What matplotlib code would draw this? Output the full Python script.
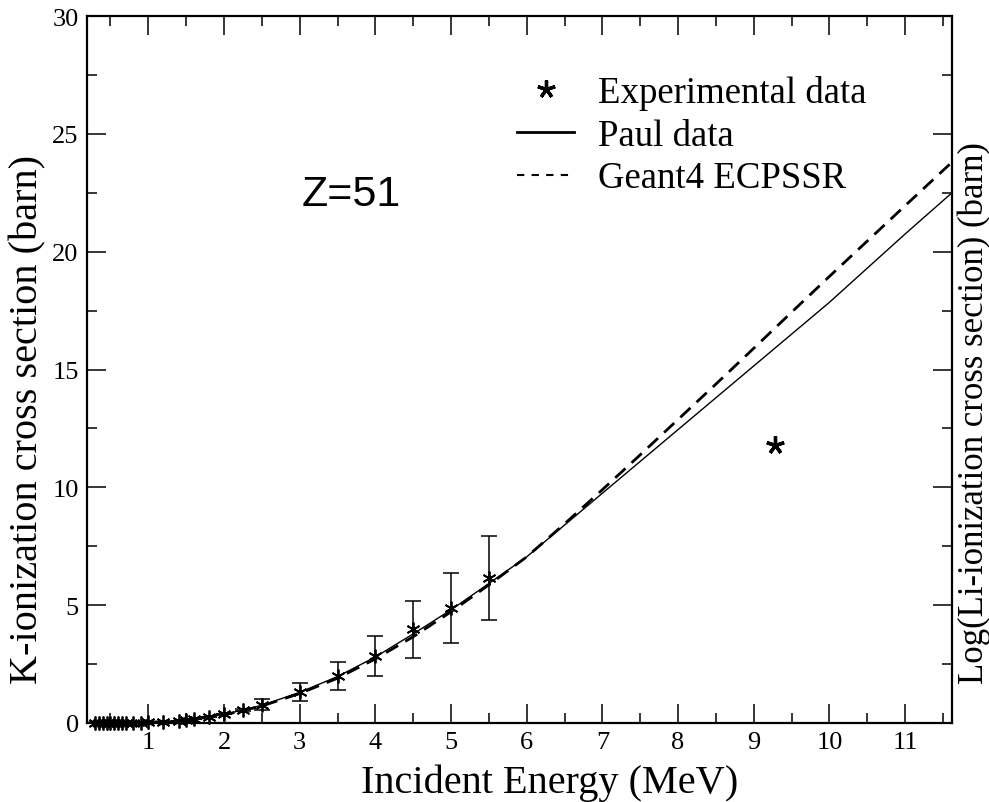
import matplotlib
matplotlib.use("Agg")
import matplotlib.pyplot as plt
from matplotlib.lines import Line2D
from matplotlib.ticker import MultipleLocator

# ---- data ----
energy_curve = [0.2, 0.5, 1.0, 1.5, 2.0, 2.5, 3.0, 3.5, 4.0, 4.5, 5.0, 5.5, 6.0,
                6.5, 7.0, 7.5, 8.0, 8.5, 9.0, 9.5, 10.0, 10.5, 11.0, 11.62]
paul_data = [0.0, 0.002, 0.03, 0.13, 0.36, 0.75, 1.30, 1.97, 2.80, 3.78, 4.80, 5.92, 7.05,
             8.40, 9.75, 11.10, 12.45, 13.80, 15.15, 16.50, 17.85, 19.30, 20.75, 22.50]
geant4_ecpssr = [0.0, 0.002, 0.028, 0.12, 0.34, 0.72, 1.25, 1.90, 2.72, 3.66, 4.72, 5.86, 7.05,
                 8.45, 9.90, 11.38, 12.88, 14.38, 15.90, 17.43, 18.95, 20.45, 21.95, 23.80]

energy_exp = [0.30, 0.35, 0.40, 0.45, 0.50, 0.55, 0.60, 0.65, 0.70, 0.80, 0.90, 1.00,
              1.2, 1.4, 1.5, 1.6, 1.8, 2.0, 2.25, 2.5, 3.0, 3.5, 4.0, 4.5, 5.0, 5.5]
sigma_exp = [0.0, 0.0, 0.0, 0.0, 0.0, 0.0, 0.0, 0.01, 0.01, 0.01, 0.02, 0.03,
             0.05, 0.10, 0.13, 0.17, 0.25, 0.40, 0.56, 0.78, 1.31, 1.99, 2.84, 3.97, 4.88, 6.15]
sigma_err = [0, 0, 0, 0, 0, 0, 0, 0, 0, 0, 0, 0,
             0, 0, 0, 0, 0, 0, 0.05, 0.24, 0.38, 0.60, 0.86, 1.20, 1.47, 1.80]

energy_outlier = [9.28]
sigma_outlier = [11.8]

x_ticks = [1, 2, 3, 4, 5, 6, 7, 8, 9, 10, 11]
y_ticks = [0, 5, 10, 15, 20, 25, 30]

serif = "Liberation Serif"
sans = "Liberation Sans"

fig = plt.figure(figsize=(9.89, 8.03), dpi=100)
ax = fig.add_axes([0.088, 0.0984, 0.8746, 0.8804])

ax.plot(energy_curve, paul_data, color="black", lw=1.0, solid_joinstyle="round")
ax.plot(energy_curve, geant4_ecpssr, color="black", lw=2.0, dashes=(5, 3.0))

asterisk = (6, 2, 0)
ax.errorbar(energy_exp, sigma_exp, yerr=sigma_err, fmt="none", ecolor="black",
            elinewidth=1.1, capsize=6, capthick=1.1)
ax.plot(energy_exp, sigma_exp, ls="none", marker=asterisk, ms=10, mec="black", mew=1.3,
        clip_on=False, zorder=4)
ax.plot(energy_outlier, sigma_outlier, ls="none", marker=(5, 2, 0), ms=13,
        mec="black", mew=2.4)

ax.set_xlim(0.19, 11.62)
ax.set_ylim(0, 30)
ax.set_xticks(x_ticks)
ax.set_yticks(y_ticks)
ax.xaxis.set_minor_locator(MultipleLocator(0.5))
ax.yaxis.set_minor_locator(MultipleLocator(2.5))
ax.tick_params(which="both", direction="in", top=True, right=True, width=1.1, color="black")
ax.tick_params(which="major", length=14)
ax.tick_params(which="minor", length=7)
ax.tick_params(axis="both", which="major", labelsize=19, pad=6)
for lab in ax.get_xticklabels() + ax.get_yticklabels():
    lab.set_fontfamily(serif)
for sp in ax.spines.values():
    sp.set_linewidth(1.6)

ax.set_xlabel("Incident Energy (MeV)", fontfamily=serif, fontsize=29, labelpad=7)
ax.xaxis.label.set_x(0.535)
ax.set_ylabel("K-ionization cross section (barn)", fontfamily=serif, fontsize=29, labelpad=4)
ax.yaxis.label.set_y(0.43)
fig.text(0.985, 0.485, "Log(Li-ionization cross section) (barn)", rotation=90,
         fontfamily=serif, fontsize=25, ha="center", va="center")

ax.text(0.305, 0.757, "Z=51", transform=fig.transFigure, fontfamily=sans, fontsize=31,
        ha="left", va="center")

handles = [Line2D([], [], ls="none", marker=(5, 2, 0), ms=13, mec="black", mew=2.4),
           Line2D([], [], color="black", lw=2.0),
           Line2D([], [], color="black", lw=1.5, dashes=(3.5, 3.5))]
labels = ["Experimental data", "Paul data", "Geant4 ECPSSR"]
leg = ax.legend(handles, labels, loc="upper left", bbox_to_anchor=(0.523, 0.905),
                bbox_transform=fig.transFigure, frameon=False, prop={"family": serif, "size": 26.5},
                handlelength=1.55, handletextpad=0.65, labelspacing=0.22, borderpad=0,
                borderaxespad=0)

fig.savefig("out.png", dpi=100)
